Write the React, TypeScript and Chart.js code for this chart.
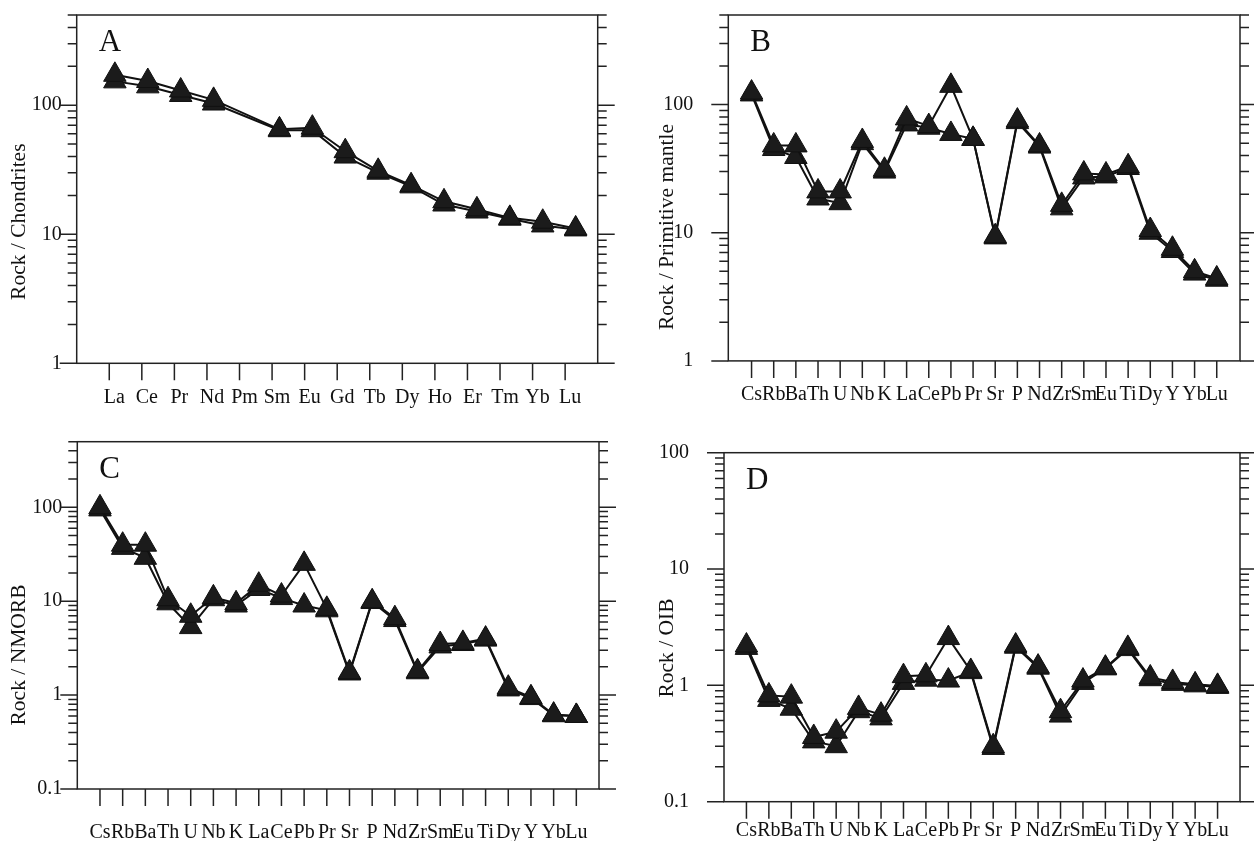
import React, { useEffect, useRef } from 'react';
import { Chart, registerables } from 'chart.js';

Chart.register(...registerables);

// ---------- data ----------
const reeLabels = ['La', 'Ce', 'Pr', 'Nd', 'Pm', 'Sm', 'Eu', 'Gd', 'Tb', 'Dy', 'Ho', 'Er', 'Tm', 'Yb', 'Lu'];
const spiderLabels = ['Cs', 'Rb', 'Ba', 'Th', 'U', 'Nb', 'K', 'La', 'Ce', 'Pb', 'Pr', 'Sr', 'P', 'Nd', 'Zr', 'Sm', 'Eu', 'Ti', 'Dy', 'Y', 'Yb', 'Lu'];

const chondriteS1 = [172, 154, 130, 110, null, 65, 67, 44, 31, 24, 18, 15.6, 13.4, 12.5, 11.1];
const chondriteS2 = [153, 140, 120, 103, null, 64, 64, 40, 30, 23.5, 17, 15, 13.2, 11.7, 10.9];

const primitiveS1 = [124, 48, 48, 21, 21, 52, 31, 78, 68, 140, 54, 9.4, 75, 48, 16.5, 29, 28.5, 33, 10.5, 7.5, 5.0, 4.4];
const primitiveS2 = [120, 45, 39, 18.5, 17, 50, 30, 70, 66, 59, 54, 9.2, 73, 47, 15.5, 27, 27.5, 32, 10.0, 7.2, 4.8, 4.3];

const nmorbS1 = [100, 40, 40, 10.5, 7.0, 11, 9.5, 15, 11.5, 25, 8.3, 1.75, 10, 6.6, 1.8, 3.5, 3.6, 4.0, 1.2, 0.95, 0.62, 0.6];
const nmorbS2 = [95, 37, 29, 9.5, 5.3, 10.5, 9.0, 13.5, 10.8, 9.0, 8.0, 1.7, 9.8, 6.3, 1.75, 3.3, 3.5, 3.9, 1.15, 0.93, 0.61, 0.6];

const oibS1 = [2.2, 0.82, 0.8, 0.36, 0.4, 0.64, 0.56, 1.2, 1.22, 2.55, 1.33, 0.3, 2.2, 1.45, 0.6, 1.1, 1.42, 2.1, 1.17, 1.07, 1.02, 0.99];
const oibS2 = [2.1, 0.75, 0.63, 0.33, 0.3, 0.6, 0.52, 1.05, 1.12, 1.1, 1.3, 0.29, 2.15, 1.42, 0.55, 1.05, 1.4, 2.05, 1.13, 1.03, 1.0, 0.97];

const yTicksAB = [1, 10, 100];
const yTicksCD = [0.1, 1, 10, 100];

const FONT = '"Liberation Serif", "Times New Roman", serif';
const INK = '#111';

// ---------- layout of the four panels ----------
type Panel = {
  letter: string;
  title: string;
  labels: string[];
  series: (number | null)[][];
  yMin: number;
  yMax: number;
  yTicks: number[];
  box: { x: number; y: number; w: number; h: number };
  area: { l: number; t: number; r: number; b: number };
  tickRange: [number, number];
  dataRange: [number, number];
  labelOffset: number;
  labelPad: number;
  yPad: number;
  titlePos: [number, number];
};

const panels: Panel[] = [
  {
    letter: 'A', title: 'Rock / Chondrites', labels: reeLabels, series: [chondriteS1, chondriteS2],
    yMin: 1, yMax: 500, yTicks: yTicksAB,
    box: { x: 0, y: 0, w: 627, h: 420 }, area: { l: 76.7, t: 15, r: 597.7, b: 363.3 },
    tickRange: [-1, 15], dataRange: [-1.16, 14.67], labelOffset: 5, labelPad: 22.5, yPad: 15, titlePos: [19, 221.7],
  },
  {
    letter: 'B', title: 'Rock / Primitive mantle', labels: spiderLabels, series: [primitiveS1, primitiveS2],
    yMin: 1, yMax: 500, yTicks: yTicksAB,
    box: { x: 627, y: 0, w: 627, h: 420 }, area: { l: 101.3, t: 15, r: 619.7, b: 360.9 },
    tickRange: [-1.05, 22.05], dataRange: [-1.05, 22.05], labelOffset: 0, labelPad: 21.5, yPad: 35, titlePos: [40, 227],
  },
  {
    letter: 'C', title: 'Rock / NMORB', labels: spiderLabels, series: [nmorbS1, nmorbS2],
    yMin: 0.1, yMax: 500, yTicks: yTicksCD,
    box: { x: 0, y: 420, w: 627, h: 421 }, area: { l: 77.3, t: 21.7, r: 599, b: 369 },
    tickRange: [-1, 22], dataRange: [-1, 22], labelOffset: 0, labelPad: 31.5, yPad: 15, titlePos: [19, 235],
  },
  {
    letter: 'D', title: 'Rock / OIB', labels: spiderLabels, series: [oibS1, oibS2],
    yMin: 0.1, yMax: 100, yTicks: yTicksCD,
    box: { x: 627, y: 420, w: 627, h: 421 }, area: { l: 97, t: 32.7, r: 619.7, b: 381.7 },
    tickRange: [-1, 22], dataRange: [-1, 22], labelOffset: 0, labelPad: 17, yPad: 35, titlePos: [40, 228],
  },
];

// ---------- plugin: frame, log ticks, letter, y title ----------
const framePlugin = {
  id: 'frame',
  beforeDatasetsDraw(chart: any) {
    const { ctx, chartArea } = chart;
    const { left, right, top, bottom } = chartArea;
    const y = chart.scales.y;
    const x = chart.scales.x;
    ctx.save();
    ctx.strokeStyle = '#222';
    ctx.lineWidth = 1.5;
    ctx.lineCap = 'butt';
    ctx.strokeRect(left, top, right - left, bottom - top);
    ctx.beginPath();
    const lo = Math.floor(Math.log10(y.min));
    const hi = Math.ceil(Math.log10(y.max));
    for (let e = lo; e <= hi; e++) {
      for (let k = 1; k <= 9; k++) {
        const v = k * Math.pow(10, e);
        if (v < y.min * 0.999 || v > y.max * 1.001) continue;
        const py = y.getPixelForValue(v);
        const len = k === 1 ? 17 : 9;
        ctx.moveTo(left - len, py);
        ctx.lineTo(left, py);
        ctx.moveTo(right, py);
        ctx.lineTo(right + len, py);
      }
    }
    x.ticks.forEach((t: any) => {
      const px = x.getPixelForValue(t.value);
      ctx.moveTo(px, bottom);
      ctx.lineTo(px, bottom + 17);
    });
    ctx.stroke();
    ctx.restore();
  },
  afterDraw(chart: any, _args: any, opts: any) {
    const { ctx, chartArea } = chart;
    ctx.save();
    ctx.fillStyle = INK;
    ctx.font = `31px ${FONT}`;
    ctx.textAlign = 'left';
    ctx.textBaseline = 'alphabetic';
    ctx.fillText(opts.letter, chartArea.left + 22, chartArea.top + 36);
    ctx.translate(opts.titlePos[0], opts.titlePos[1]);
    ctx.rotate(-Math.PI / 2);
    ctx.font = `21.5px ${FONT}`;
    ctx.textAlign = 'center';
    ctx.textBaseline = 'middle';
    ctx.fillText(opts.title, 0, 0);
    ctx.restore();
  },
};

function PanelChart({ p }: { p: Panel }) {
  const ref = useRef<HTMLCanvasElement | null>(null);
  useEffect(() => {
    if (!ref.current) return;
    const datasets = p.series.map((s) => ({
      data: s.map((v, i) => ({ x: i, y: v })),
      xAxisID: 'xd',
      yAxisID: 'y',
      borderColor: INK,
      borderWidth: 2,
      pointStyle: 'triangle',
      pointRadius: 13,
      pointHoverRadius: 13,
      pointBackgroundColor: '#1b1b1b',
      pointBorderColor: INK,
      pointBorderWidth: 1,
      spanGaps: true,
      fill: false,
      tension: 0,
      clip: false as any,
    }));
    const chart = new Chart(ref.current, {
      type: 'line',
      data: { datasets } as any,
      plugins: [framePlugin as any],
      options: {
        responsive: false,
        animation: false,
        devicePixelRatio: 1,
        events: [],
        layout: { padding: { left: 0, top: p.area.t, right: p.box.w - p.area.r, bottom: 0 } },
        plugins: {
          legend: { display: false },
          tooltip: { enabled: false },
          frame: { letter: p.letter, title: p.title, titlePos: p.titlePos },
        } as any,
        scales: {
          x: {
            type: 'linear',
            position: 'bottom',
            min: p.tickRange[0],
            max: p.tickRange[1],
            afterBuildTicks: (s: any) => {
              s.ticks = p.labels.map((_, i) => ({ value: i }));
            },
            afterFit: (s: any) => {
              s.height = p.box.h - p.area.b;
              s.paddingLeft = 0;
              s.paddingRight = 0;
            },
            grid: { display: false, drawTicks: false },
            border: { display: false },
            ticks: {
              autoSkip: false,
              maxRotation: 0,
              minRotation: 0,
              padding: p.labelPad,
              labelOffset: p.labelOffset,
              color: INK,
              font: { family: FONT, size: 20 },
              callback: (v: any) => p.labels[v] ?? '',
            },
          },
          xd: {
            type: 'linear',
            display: false,
            min: p.dataRange[0],
            max: p.dataRange[1],
          },
          y: {
            type: 'logarithmic',
            position: 'left',
            min: p.yMin,
            max: p.yMax,
            afterBuildTicks: (s: any) => {
              s.ticks = p.yTicks.map((v) => ({ value: v }));
            },
            afterFit: (s: any) => {
              s.width = p.area.l;
              s.paddingTop = 0;
              s.paddingBottom = 0;
            },
            grid: { display: false, drawTicks: false },
            border: { display: false },
            ticks: {
              padding: p.yPad,
              color: INK,
              font: { family: FONT, size: 20 },
              callback: (v: any) => String(v),
            },
          },
        } as any,
      },
    });
    return () => chart.destroy();
  }, [p]);
  return (
    <canvas
      ref={ref}
      width={p.box.w}
      height={p.box.h}
      style={{ position: 'absolute', left: p.box.x, top: p.box.y, width: p.box.w, height: p.box.h }}
    />
  );
}

export default function App() {
  return (
    <div style={{ position: 'absolute', left: 0, top: 0, width: 1254, height: 841, background: '#fff', overflow: 'hidden' }}>
      {panels.map((p) => (
        <PanelChart key={p.letter} p={p} />
      ))}
    </div>
  );
}
